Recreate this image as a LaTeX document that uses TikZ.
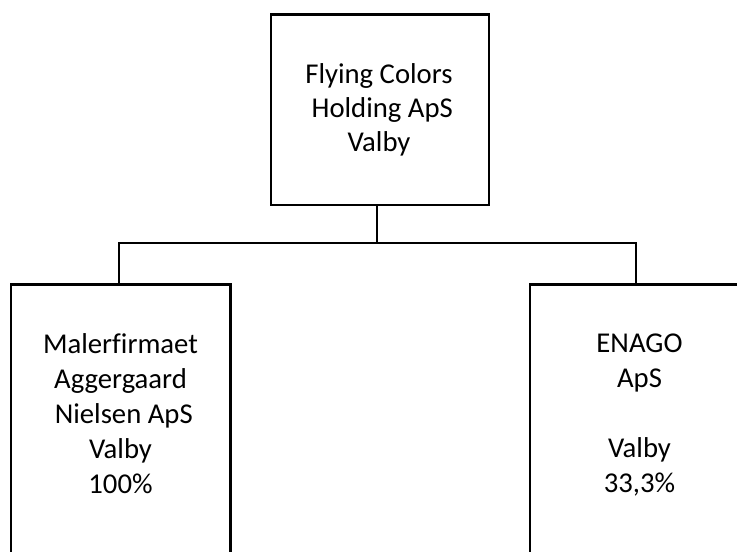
\documentclass[tikz,border=0pt]{standalone}
\usepackage{fontspec}
\setmainfont{Carlito}[Ligatures={NoCommon}]
\newcommand{\mystrutA}{\vrule height 24pt depth 0pt width 0pt}
\begin{document}
\begin{tikzpicture}[x=1pt,y=-1pt,
  box/.style={draw=black, line width=2.8pt, rectangle, inner sep=0pt},
  link/.style={draw=black, line width=1.6pt},
  txt/.style={align=center, inner sep=0pt, anchor=north, font=\fontsize{28.7pt}{35pt}\selectfont},
  toptxt/.style={txt, font=\fontsize{28.7pt}{34.2pt}\selectfont}]
\useasboundingbox (0,0) rectangle (737,552);
\clip (0,0) rectangle (737,552);
\fill[white] (0,0) rectangle (737,552);
% boxes
\node[box, minimum width=218pt, minimum height=190.5pt] (top) at (380,109.75) {};
\node[box, minimum width=219.5pt, minimum height=330pt] (left) at (120.75,449.5) {};
\node[box, minimum width=219.5pt, minimum height=330pt] (right) at (639.75,449.5) {};
% texts
\node[toptxt] (toptext) at (379,59) {\mystrutA Flying Colors\\\hspace*{6.5pt}Holding ApS\\Valby};
\node[txt] (lefttext) at (120.5,329) {\mystrutA Malerfirmaet\\Aggergaard\\\hspace*{6.5pt}Nielsen ApS\\Valby\\100\%};
\node[txt] (righttext) at (639.5,328.5) {\mystrutA ENAGO\\ApS\\\mbox{}\\Valby\\33,3\%};
% connectors
\coordinate (bus) at (377,243);
\draw[link] ([xshift=-3pt]top.south) -- (bus) -| ([xshift=-1.75pt]left.north);
\draw[link] (bus) -| ([xshift=-3.75pt]right.north);
\end{tikzpicture}
\end{document}
